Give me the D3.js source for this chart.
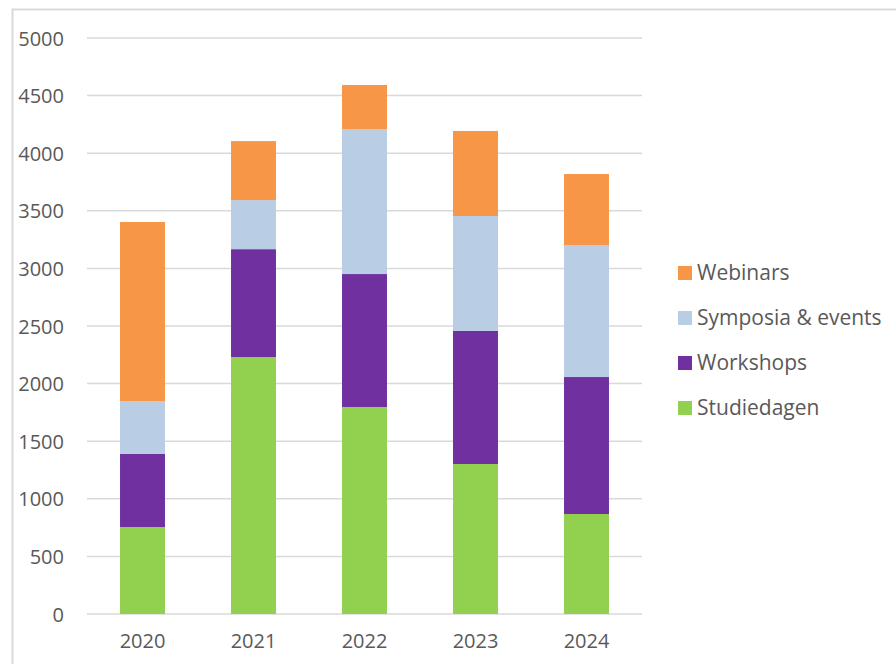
<!DOCTYPE html>
<html>
<head>
<meta charset="utf-8">
<title>Stacked bars 2020-2024</title>
<style>
  body { margin: 0; background: #fff; }
  text { font-family: "Open Sans", Lato, sans-serif; fill: #595959; }
</style>
</head>
<body>
<script src="https://d3js.org/d3.v7.min.js"></script>
<script>
// data
var years = ["2020", "2021", "2022", "2023", "2024"];
var series = ["Studiedagen", "Workshops", "Symposia & events", "Webinars"];
var studiedagen = [755, 2230, 1797, 1302, 868];
var workshops = [634, 937, 1154, 1155, 1189];
var symposia = [460, 426, 1259, 998, 1146];
var webinars = [1554, 512, 382, 738, 616];
var yTicks = [0, 500, 1000, 1500, 2000, 2500, 3000, 3500, 4000, 4500, 5000];
var colors = ["#92d050", "#7030a0", "#b9cde5", "#f79646"];

var W = 896, H = 664;
var plot = {left: 87, right: 642, top: 38, bottom: 614};

var svg = d3.select("body").append("svg")
    .attr("width", W).attr("height", H);

// chart frame
svg.append("rect")
    .attr("x", 12.5).attr("y", 9.5)
    .attr("width", 1000).attr("height", 1000)
    .attr("fill", "none").attr("stroke", "#d9d9d9").attr("stroke-width", 2);

var x = d3.scaleBand().domain(years)
    .range([plot.left, plot.right])
    .paddingInner(0.595).paddingOuter(0.2975);
var y = d3.scaleLinear().domain([0, 5000]).range([plot.bottom, plot.top]);

// gridlines
svg.append("g").selectAll("line")
    .data(yTicks).enter().append("line")
    .attr("x1", plot.left).attr("x2", plot.right)
    .attr("y1", function(d) { return y(d); })
    .attr("y2", function(d) { return y(d); })
    .attr("stroke", "#d9d9d9").attr("stroke-width", 1.5);

// y axis labels
var yAxis = svg.append("g")
    .attr("transform", "translate(" + 64 + ",0)")
    .call(d3.axisLeft(y).tickValues(yTicks).tickFormat(d3.format("d"))
      .tickSize(0).tickPadding(0));
yAxis.select(".domain").remove();
yAxis.selectAll("text")
    .style("font-size", "20px").attr("dy", "0.35em").attr("fill", "#595959");

// x axis labels
var xAxis = svg.append("g")
    .attr("transform", "translate(0," + plot.bottom + ")")
    .call(d3.axisBottom(x).tickSize(0).tickPadding(20));
xAxis.select(".domain").remove();
xAxis.selectAll("text")
    .style("font-size", "20px").attr("fill", "#595959");

// stack
var table = years.map(function(yr, i) {
  return {year: yr, "Studiedagen": studiedagen[i], "Workshops": workshops[i],
          "Symposia & events": symposia[i], "Webinars": webinars[i]};
});
var stacked = d3.stack().keys(series)(table);

svg.append("g").selectAll("g")
    .data(stacked).enter().append("g")
    .attr("fill", function(d, i) { return colors[i]; })
  .selectAll("rect")
    .data(function(d) { return d; }).enter().append("rect")
    .attr("x", function(d) { return x(d.data.year); })
    .attr("width", x.bandwidth())
    .attr("y", function(d) { return y(d[1]); })
    .attr("height", function(d) { return y(d[0]) - y(d[1]); });

// legend, top entry is the last series
var legendOrder = series.slice().reverse();
var legend = svg.append("g").selectAll("g")
    .data(legendOrder).enter().append("g")
    .attr("transform", function(d, i) { return "translate(678," + (273 + i * 45) + ")"; });
legend.append("rect")
    .attr("x", 0).attr("y", -7).attr("width", 14).attr("height", 14)
    .attr("fill", function(d) { return colors[series.indexOf(d)]; });
legend.append("text")
    .attr("x", 19).attr("dy", "0.35em")
    .style("font-size", "21px")
    .text(function(d) { return d; });
</script>
</body>
</html>
